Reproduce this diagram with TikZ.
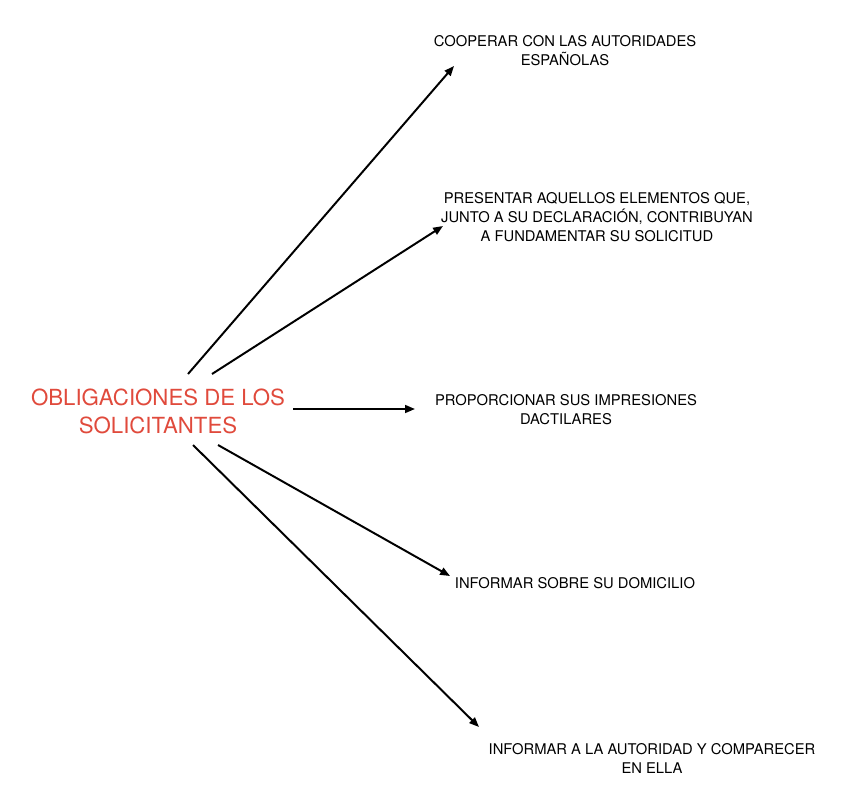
\documentclass[tikz,border=0pt]{standalone}
\usepackage{fontspec}
\setmainfont{TeX Gyre Heros}
\usepackage{xcolor}
\usetikzlibrary{arrows.meta, positioning}
\definecolor{vermelho}{RGB}{224, 74, 60}

\begin{document}
\begin{tikzpicture}[x=0.025cm, y=-0.025cm,
  seta/.style={-{Triangle[length=7pt, width=5.5pt]}, line width=1.4pt},
  item/.style={align=center, font=\fontsize{10.5}{13.5}\selectfont, inner sep=0pt},
  titulo/.style={align=center, text=vermelho, font=\fontsize{15.8}{19.9}\selectfont, inner sep=0pt}]
  \useasboundingbox (0,0) rectangle (848,808);
  % tema central
  \node[titulo] (obrig) at (158,411) {OBLIGACIONES DE LOS\\SOLICITANTES};
  % obriga\c{c}\~oes
  \node[item] (coop) at (565,51) {COOPERAR CON LAS AUTORIDADES\\ESPAÑOLAS};
  \node[item] (pres) at (597,217) {PRESENTAR AQUELLOS ELEMENTOS QUE,\\JUNTO A SU DECLARACIÓN, CONTRIBUYAN\\A FUNDAMENTAR SU SOLICITUD};
  \node[item] (prop) at (566,410) {PROPORCIONAR SUS IMPRESIONES\\DACTILARES};
  \node[item] (domi) at (575,583) {INFORMAR SOBRE SU DOMICILIO};
  \node[item] (comp) at (652,758) {INFORMAR A LA AUTORIDAD Y COMPARECER\\EN ELLA};
  % pontas das setas
  \coordinate (s1) at (188,374);
  \coordinate (s2) at (212,374);
  \coordinate (s3) at (293,409);
  \coordinate (s4) at (218,445);
  \coordinate (s5) at (193,445);
  \coordinate (e1) at (454,66);
  \coordinate (e2) at (443,226);
  \coordinate (e3) at (415,409);
  \coordinate (e4) at (450,576);
  \coordinate (e5) at (479,727);
  \foreach \i in {1,...,5}
    \draw[seta] (s\i) -- (e\i);
\end{tikzpicture}
\end{document}
